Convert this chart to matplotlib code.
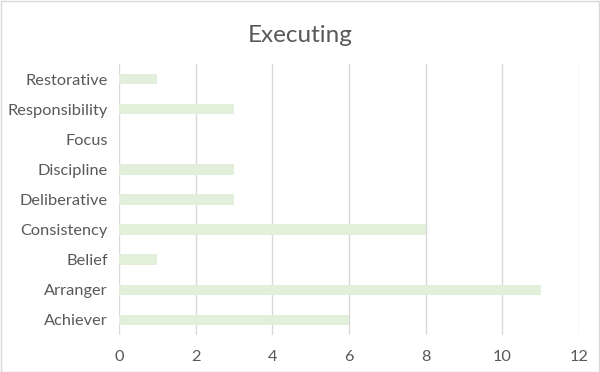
import matplotlib.pyplot as plt
from matplotlib.patches import Rectangle

categories = ['Achiever', 'Arranger', 'Belief', 'Consistency', 'Deliberative',
              'Discipline', 'Focus', 'Responsibility', 'Restorative']
values = [6, 11, 1, 8, 3, 3, 0, 3, 1]
xticks = [0, 2, 4, 6, 8, 10, 12]

plt.rcParams['font.family'] = ['Lato', 'DejaVu Sans']

fig = plt.figure(figsize=(6, 3.72), dpi=100)
ax = fig.add_axes([0.198, 0.0995, 0.767, 0.7285])

ax.barh(range(len(categories)), values, height=0.35, color='#E2EFDA', zorder=3)
ax.set_yticks(range(len(categories)))
ax.set_yticklabels(categories)
ax.set_ylim(-0.5, len(categories) - 0.5)
ax.set_xlim(0, 12)
ax.set_xticks(xticks)
ax.grid(axis='x', color='#D9D9D9', linewidth=1, zorder=0)
for s in ax.spines.values():
    s.set_visible(False)
ax.tick_params(axis='both', length=0, labelsize=11.8, labelcolor='#595959')
ax.tick_params(axis='y', pad=8)
ax.tick_params(axis='x', pad=11)

fig.text(0.5, 0.905, 'Executing', ha='center', va='center', fontsize=17.5, color='#595959')
fig.patches.append(Rectangle((0.001, 0.001), 0.997, 0.997, transform=fig.transFigure,
                             fill=False, edgecolor='#D9D9D9', linewidth=1))

fig.savefig('out.png', dpi=100)
